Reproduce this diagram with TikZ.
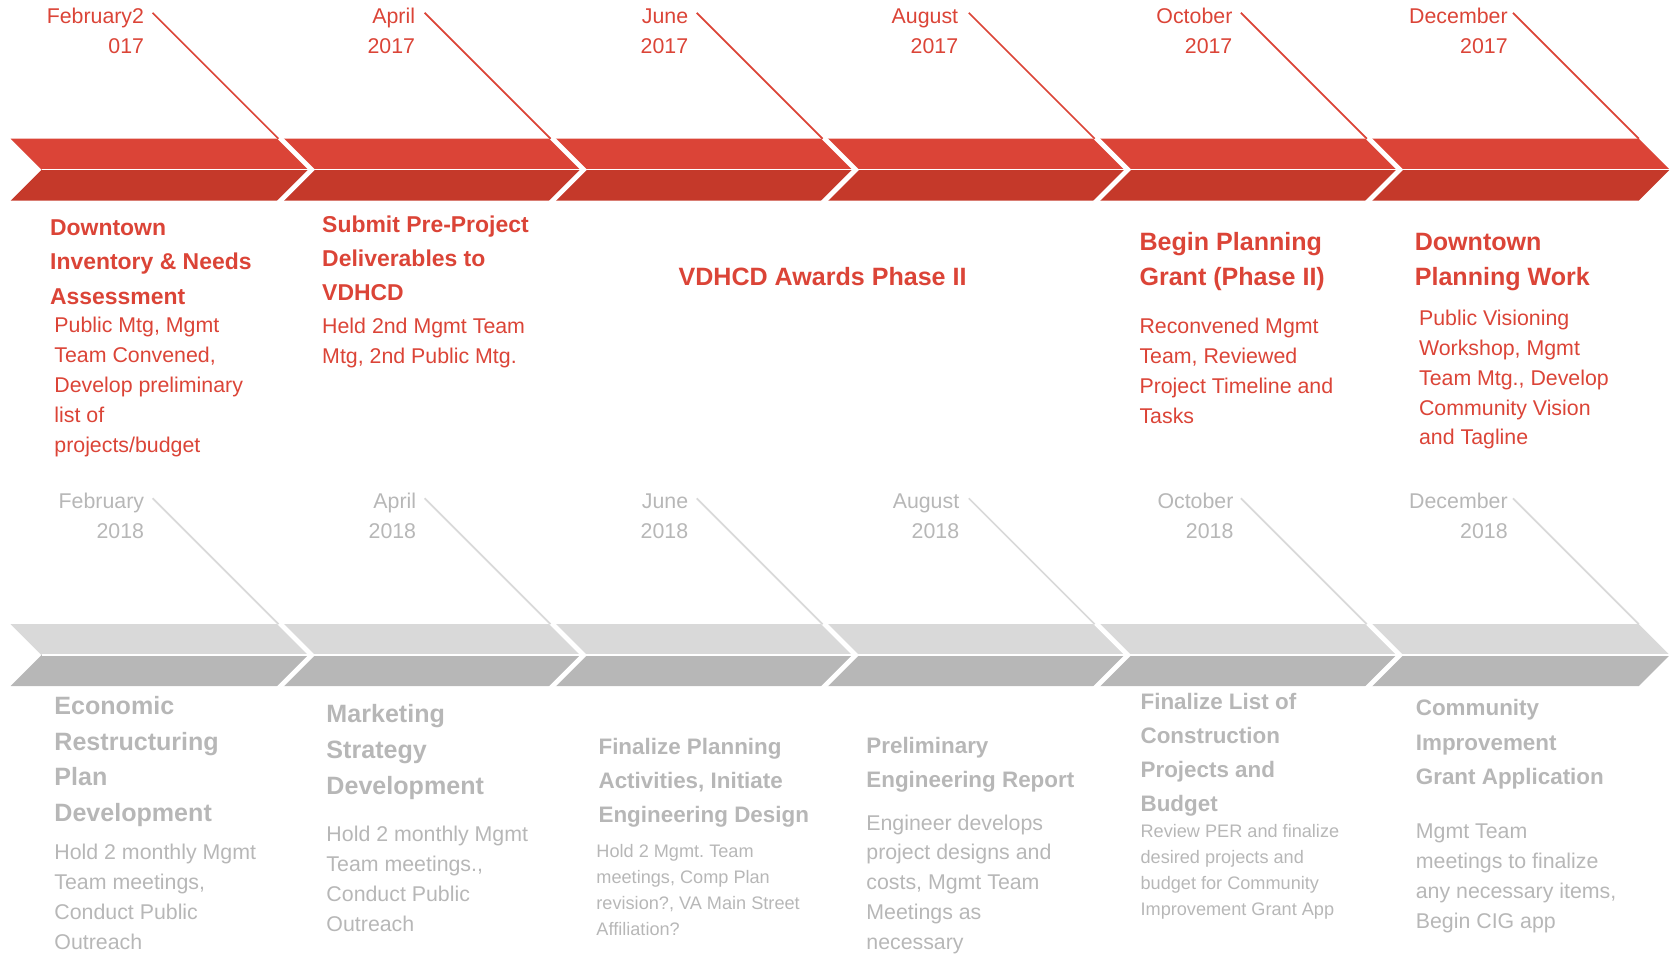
\documentclass[tikz,border=0pt]{standalone}
\usepackage{fontspec}
\setmainfont{Liberation Sans}
\frenchspacing
\definecolor{redA}{HTML}{DB4437}
\definecolor{redB}{HTML}{C5392A}
\definecolor{redT}{HTML}{DB4437}
\definecolor{grayA}{HTML}{D9D9D9}
\definecolor{grayB}{HTML}{B7B7B7}
\definecolor{grayT}{HTML}{B7B7B7}
\newcommand{\fst}{\rule{0pt}{1em}}
\tikzset{
 txt/.style={inner sep=0pt, outer sep=0pt, align=left, anchor=north west},
 datelbl/.style={inner sep=0pt, outer sep=0pt, align=right, anchor=north east, font=\fontsize{20}{28}\selectfont},
 headS/.style={txt, font=\bfseries\fontsize{21.5}{32}\selectfont},
 headL/.style={txt, font=\bfseries\fontsize{23.5}{33.5}\selectfont},
 bodyM/.style={txt, font=\fontsize{20}{28}\selectfont},
 bodyS/.style={txt, font=\fontsize{17}{24.3}\selectfont},
 leader/.style={line width=1.6pt},
 gapcut/.style={white, line width=4.5pt, miter limit=10},
 midcut/.style={white, line width=1.5pt},
}
\begin{document}
\begin{tikzpicture}[x=1pt,y=-1pt]
\useasboundingbox (0,0) rectangle (1568,895);
% ---------- top band ----------
\fill[redA] (10,130) -- (1536,130) -- (1565,159) -- (39,159) -- cycle;
\fill[redB] (39,159) -- (1565,159) -- (1536,188) -- (10,188) -- cycle;
\draw[midcut] (39,159) -- (1565,159);
% ---------- bottom band ----------
\fill[grayA] (10,585) -- (1536,585) -- (1565,614) -- (39,614) -- cycle;
\fill[grayB] (39,614) -- (1565,614) -- (1536,643) -- (10,643) -- cycle;
\draw[midcut] (39,614) -- (1565,614);
\foreach \i in {1,...,5}{
  \pgfmathsetmacro\tp{290+255*(\i-1)}
  \draw[gapcut] (\tp-30,127) -- (\tp+2,159) -- (\tp-30,191);
  \draw[gapcut] (\tp-30,582) -- (\tp+2,614) -- (\tp-30,646);
}
% ---------- dates and leaders ----------
\foreach \i/\m/\y/\o in {1/February2/017/155,2/April/2017/156,3/June/2017/155,4/August/2017/157,5/October/2017/155,6/December/2017/152}{
  \pgfmathsetmacro\tp{290+255*(\i-1)}
  \node[datelbl, text=redT] (td\i) at (\tp-\o,2) {\fst\m\\\y};
  \coordinate (ts\i) at (\tp-147,12);
  \coordinate (te\i) at (\tp-29,130);
  \draw[leader, redA] (ts\i) -- (te\i);
}
\foreach \i/\m/\y/\o in {1/February/2018/155,2/April/2018/155,3/June/2018/155,4/August/2018/156,5/October/2018/154,6/December/2018/152}{
  \pgfmathsetmacro\tp{290+255*(\i-1)}
  \node[datelbl, text=grayT] (bd\i) at (\tp-\o,457) {\fst\m\\\y};
  \coordinate (bs\i) at (\tp-147,467);
  \coordinate (be\i) at (\tp-29,585);
  \draw[leader, grayA] (bs\i) -- (be\i);
}
% ---------- top texts ----------
\node[headS, text=redT] (h1) at (47,199.5) {\fst Downtown\\Inventory \& Needs\\Assessment};
\node[bodyM, text=redT] (b1) at (51,292) {\fst Public Mtg, Mgmt\\Team Convened,\\Develop preliminary\\list of\\projects/budget};
\node[headS, text=redT] (h2) at (302,196.5) {\fst Submit Pre-Project\\Deliverables to\\VDHCD};
\node[bodyM, text=redT] (b2) at (302,293) {\fst Held 2nd Mgmt Team\\Mtg, 2nd Public Mtg.};
\node[inner sep=0pt, anchor=base, text=redT, font=\bfseries\fontsize{23.5}{28}\selectfont] (h3) at (771,267.5) {VDHCD Awards Phase II};
\node[headL, text=redT] (h5) at (1068,211) {\fst Begin Planning\\Grant (Phase II)};
\node[bodyM, text=redT] (b5) at (1068,293) {\fst Reconvened Mgmt\\Team, Reviewed\\Project Timeline and\\Tasks};
\node[headL, text=redT] (h6) at (1326,211) {\fst Downtown\\Planning Work};
\node[bodyM, text=redT] (b6) at (1330,285) {\fst Public Visioning\\Workshop, Mgmt\\Team Mtg., Develop\\Community Vision\\and Tagline};
% ---------- bottom texts ----------
\node[headL, text=grayT] (g1) at (51,646) {\fst Economic\\Restructuring\\Plan\\Development};
\node[bodyM, text=grayT] (c1) at (51,786) {\fst Hold 2 monthly Mgmt\\Team meetings,\\Conduct Public\\Outreach};
\node[headL, text=grayT] (g2) at (306,654) {\fst Marketing\\Strategy\\Development};
\node[bodyM, text=grayT] (c2) at (306,769) {\fst Hold 2 monthly Mgmt\\Team meetings.,\\Conduct Public\\Outreach};
\node[headS, font=\bfseries\fontsize{21}{32}\selectfont, text=grayT] (g3) at (561,686) {\fst Finalize Planning\\Activities, Initiate\\Engineering Design};
\node[bodyS, text=grayT] (c3) at (559,787) {\fst Hold 2 Mgmt. Team\\meetings, Comp Plan\\revision?, VA Main Street\\Affiliation?};
\node[headS, font=\bfseries\fontsize{21}{32}\selectfont, text=grayT] (g4) at (812,685) {\fst Preliminary\\Engineering Report};
\node[bodyM, text=grayT] (c4) at (812,758) {\fst Engineer develops\\project designs and\\costs, Mgmt Team\\Meetings as\\necessary};
\node[headS, font=\bfseries\fontsize{21}{32}\selectfont, text=grayT] (g5) at (1069,644) {\fst Finalize List of\\Construction\\Projects and\\Budget};
\node[bodyS, text=grayT] (c5) at (1069,768) {\fst Review PER and finalize\\desired projects and\\budget for Community\\Improvement Grant App};
\node[headS, font=\bfseries\fontsize{21}{32}\selectfont, text=grayT] (g6) at (1327,650) {\fst Community\\Improvement\\Grant Application};
\node[bodyM, text=grayT] (c6) at (1327,766) {\fst Mgmt Team\\meetings to finalize\\any necessary items,\\Begin CIG app};
\end{tikzpicture}
\end{document}
